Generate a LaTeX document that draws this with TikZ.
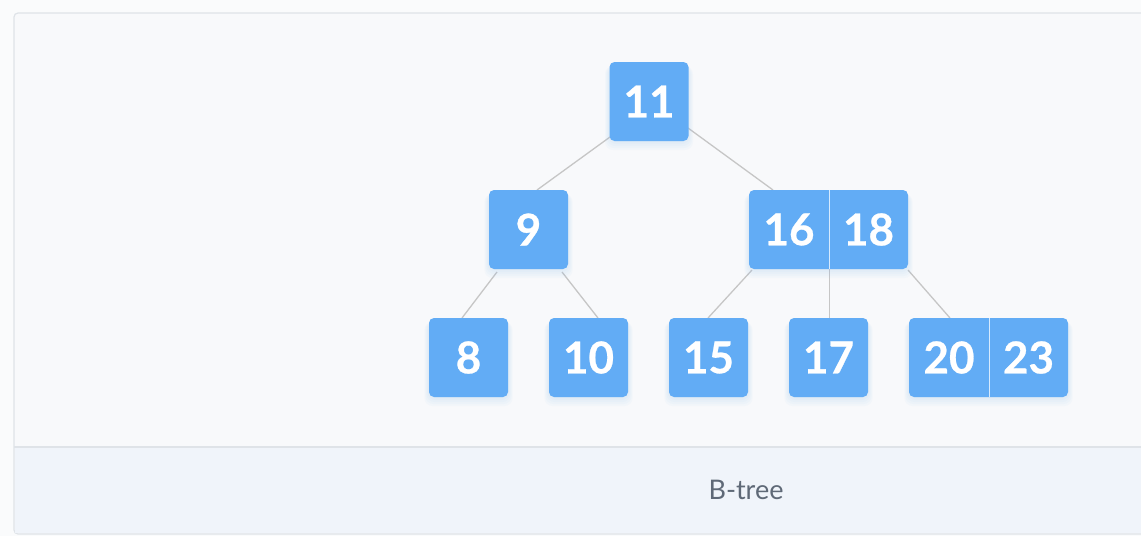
\documentclass[tikz,border=0pt]{standalone}
\usepackage{fontspec}
\setmainfont{Lato}
\newfontfamily\keyfont{Lato}[BoldFeatures={FakeBold=0.6}]
\usetikzlibrary{calc}
\definecolor{pagebg}{HTML}{FAFBFC}
\definecolor{panelbg}{HTML}{F8F9FB}
\definecolor{framecol}{HTML}{DFE3E8}
\definecolor{capbg}{HTML}{F0F4FA}
\definecolor{boxblue}{HTML}{62ACF5}
\definecolor{shadowblue}{HTML}{8FC0F0}
\definecolor{edgecol}{HTML}{C6C6C6}
\definecolor{captext}{HTML}{5F6977}
\definecolor{divcol}{HTML}{D6EAFE}
\newcommand\softshadowbox[4]{%
  \foreach \s in {1,3,5,7,9}{%
    \fill[shadowblue, opacity=0.05, rounded corners=8pt] (#1-\s*0.5,#2+4) rectangle (#3+\s*0.5,#4+\s);
  }%
}
\tikzset{
  keybox/.style={rectangle, rounded corners=5pt, fill=boxblue, minimum width=79pt, minimum height=79pt, inner sep=0pt, text=white, font=\keyfont\fontsize{44}{46}\selectfont\bfseries},
  keytext/.style={rectangle, minimum width=79pt, minimum height=79pt, inner sep=0pt, text=white, font=\keyfont\fontsize{44}{46}\selectfont\bfseries},
  pairbg/.style={fill=boxblue, rounded corners=5pt},
  edge/.style={draw=edgecol, line width=1.3pt},
  divider/.style={draw=divcol, line width=1pt},
}
\begin{document}
\begin{tikzpicture}[x=1pt,y=-1pt]
\useasboundingbox (0,0) rectangle (1141,536);
\clip (0,0) rectangle (1141,536);
\fill[pagebg] (0,0) rectangle (1141,536);
% panel
\filldraw[fill=panelbg, draw=framecol, line width=1.2pt, rounded corners=4pt] (14,13) rectangle (1160,534);
\fill[capbg] (14.6,447) rectangle (1160,533.4);
\draw[framecol, line width=1.2pt] (14,447) -- (1160,447);
\node[text=captext, font=\fontsize{27}{30}\selectfont] (cap) at (746,490) {B-tree};

% edges (behind)
\coordinate (e11a) at (610,137);
\coordinate (e9t) at (537,190);
\coordinate (e11b) at (688,128);
\coordinate (e16t) at (773,190);
\coordinate (e9a) at (497,272);
\coordinate (e8t) at (462,318);
\coordinate (e9b) at (562,272);
\coordinate (e10t) at (598,318);
\coordinate (e16a) at (752,270);
\coordinate (e15t) at (708,318);
\coordinate (emid) at (829.5,269);
\coordinate (e17t) at (829.5,318);
\coordinate (e18a) at (908,270);
\coordinate (e20t) at (950,318);
\draw[edge] (e11a) -- (e9t);
\draw[edge] (e11b) -- (e16t);
\draw[edge] (e9a) -- (e8t);
\draw[edge] (e9b) -- (e10t);
\draw[edge] (e16a) -- (e15t);
\draw[edge] (emid) -- (e17t);
\draw[edge] (e18a) -- (e20t);

% shadows
\softshadowbox{609.5}{62}{688.5}{141}
\softshadowbox{489}{190}{568}{269}
\softshadowbox{749}{190}{908}{269}
\softshadowbox{429}{318}{508}{397}
\softshadowbox{549}{318}{628}{397}
\softshadowbox{669}{318}{748}{397}
\softshadowbox{789}{318}{868}{397}
\softshadowbox{909}{318}{1068}{397}

% single-key nodes
\node[keybox] (n11) at (649,101.5) {11};
\node[keybox] (n9) at (528.5,229.5) {9};
\node[keybox] (n8) at (468.5,357.5) {8};
\node[keybox] (n10) at (588.5,357.5) {10};
\node[keybox] (n15) at (708.5,357.5) {15};
\node[keybox] (n17) at (828.5,357.5) {17};

% two-key nodes
\path[pairbg] (749,190) rectangle (908,269);
\node[keytext] (n16) at (789,229.5) {16};
\node[keytext] (n18) at (868.5,229.5) {18};
\draw[divider] (829.5,190) -- (829.5,269);

\path[pairbg] (909,318) rectangle (1068,397);
\node[keytext] (n20) at (949,357.5) {20};
\node[keytext] (n23) at (1028.5,357.5) {23};
\draw[divider] (989.5,318) -- (989.5,397);
\end{tikzpicture}
\end{document}
